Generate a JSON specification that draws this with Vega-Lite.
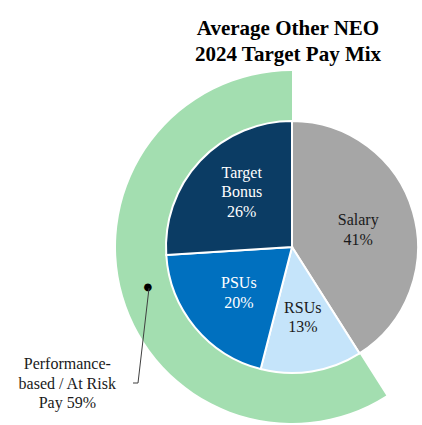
{
  "$schema": "https://vega.github.io/schema/vega-lite/v6.json",
  "autosize": {"type": "none"},
  "width": 250,
  "height": 250,
  "padding": {"left": 167, "top": 122, "right": 5, "bottom": 53},
  "background": "white",
  "title": {
    "text": ["Average Other NEO", "2024 Target Pay Mix"],
    "font": "Liberation Serif",
    "fontSize": 21,
    "fontWeight": "bold",
    "lineHeight": 26,
    "color": "black",
    "anchor": "middle",
    "dx": -4,
    "offset": 6
  },
  "datasets": {
    "pie": [
      {"category": "Salary", "value": 41, "rank": 1, "top": "", "name": "Salary", "pct": "41%"},
      {"category": "RSUs", "value": 13, "rank": 2, "top": "", "name": "RSUs", "pct": "13%"},
      {"category": "PSUs", "value": 20, "rank": 3, "top": "", "name": "PSUs", "pct": "20%"},
      {"category": "Target Bonus", "value": 26, "rank": 4, "top": "Target", "name": "Bonus", "pct": "26%"}
    ],
    "ring": [
      {"group": "Fixed", "value": 41, "rank": 1, "label": ""},
      {"group": "Performance-based / At Risk Pay", "value": 59, "rank": 2, "label": "Performance-\nbased / At Risk\nPay 59%"}
    ]
  },
  "layer": [
    {
      "data": {"name": "ring"},
      "mark": {"type": "arc", "innerRadius": 125, "outerRadius": 176},
      "encoding": {
        "theta": {"field": "value", "type": "quantitative", "stack": true},
        "order": {"field": "rank", "type": "quantitative"},
        "color": {
          "field": "group",
          "type": "nominal",
          "scale": {"domain": ["Fixed", "Performance-based / At Risk Pay"], "range": ["rgba(255,255,255,0)", "#A3DEB0"]},
          "legend": null
        }
      }
    },
    {
      "data": {"name": "pie"},
      "mark": {"type": "arc", "outerRadius": 126, "stroke": "white", "strokeWidth": 2},
      "encoding": {
        "theta": {"field": "value", "type": "quantitative", "stack": true},
        "order": {"field": "rank", "type": "quantitative"},
        "color": {
          "field": "category",
          "type": "nominal",
          "scale": {
            "domain": ["Salary", "RSUs", "PSUs", "Target Bonus"],
            "range": ["#A6A6A6", "#C5E4FA", "#0070BF", "#0B3C64"]
          },
          "legend": null
        }
      }
    },
    {
      "data": {"name": "pie"},
      "mark": {"type": "text", "radius": 69, "font": "Liberation Serif", "fontSize": 16, "align": "center", "baseline": "bottom", "dy": -19},
      "encoding": {
        "theta": {"field": "value", "type": "quantitative", "stack": true},
        "order": {"field": "rank", "type": "quantitative"},
        "detail": {"field": "category", "type": "nominal"},
        "text": {"field": "top", "type": "nominal"},
        "color": {"value": "white"}
      }
    },
    {
      "data": {"name": "pie"},
      "mark": {"type": "text", "radius": 69, "font": "Liberation Serif", "fontSize": 16, "align": "center", "baseline": "bottom", "dy": 0.5},
      "encoding": {
        "theta": {"field": "value", "type": "quantitative", "stack": true},
        "order": {"field": "rank", "type": "quantitative"},
        "detail": {"field": "category", "type": "nominal"},
        "text": {"field": "name", "type": "nominal"},
        "color": {
          "condition": {"test": "datum.category === 'Salary' || datum.category === 'RSUs'", "value": "#1a1a1a"},
          "value": "white"
        }
      }
    },
    {
      "data": {"name": "pie"},
      "mark": {"type": "text", "radius": 69, "font": "Liberation Serif", "fontSize": 16, "align": "center", "baseline": "top", "dy": 4},
      "encoding": {
        "theta": {"field": "value", "type": "quantitative", "stack": true},
        "order": {"field": "rank", "type": "quantitative"},
        "detail": {"field": "category", "type": "nominal"},
        "text": {"field": "pct", "type": "nominal"},
        "color": {
          "condition": {"test": "datum.category === 'Salary' || datum.category === 'RSUs'", "value": "#1a1a1a"},
          "value": "white"
        }
      }
    },
    {
      "data": {"name": "ring"},
      "mark": {"type": "text", "radius": 150, "text": "●", "font": "DejaVu Sans", "fontSize": 10, "align": "center", "baseline": "middle", "dy": -2},
      "encoding": {
        "theta": {"field": "value", "type": "quantitative", "stack": true},
        "order": {"field": "rank", "type": "quantitative"},
        "detail": {"field": "group", "type": "nominal"},
        "color": {
          "condition": {"test": "datum.group === 'Fixed'", "value": "rgba(255,255,255,0)"},
          "value": "black"
        }
      }
    },
    {
      "data": {"name": "ring"},
      "mark": {"type": "text", "radius": 234, "dy": 52, "font": "Liberation Serif", "fontSize": 16, "lineHeight": 19.5, "lineBreak": "\n", "align": "center", "baseline": "middle", "color": "#1a1a1a"},
      "encoding": {
        "theta": {"field": "value", "type": "quantitative", "stack": true},
        "order": {"field": "rank", "type": "quantitative"},
        "detail": {"field": "group", "type": "nominal"},
        "text": {"field": "label", "type": "nominal"}
      }
    },
    {
      "data": {"values": [{}]},
      "mark": {"type": "rule", "color": "#404040", "strokeWidth": 1},
      "encoding": {
        "x": {"datum": -1.144, "type": "quantitative", "scale": {"domain": [-1, 1]}, "axis": null},
        "y": {"datum": -0.33, "type": "quantitative", "scale": {"domain": [-1, 1]}, "axis": null},
        "x2": {"datum": -1.232},
        "y2": {"datum": -1.088}
      }
    },
    {
      "data": {"values": [{}]},
      "mark": {"type": "rule", "color": "#404040", "strokeWidth": 1},
      "encoding": {
        "x": {"datum": -1.232, "type": "quantitative", "scale": {"domain": [-1, 1]}, "axis": null},
        "y": {"datum": -1.088, "type": "quantitative", "scale": {"domain": [-1, 1]}, "axis": null},
        "x2": {"datum": -1.272},
        "y2": {"datum": -1.088}
      }
    }
  ],
  "resolve": {"scale": {"color": "independent"}},
  "config": {"view": {"stroke": null}}
}
